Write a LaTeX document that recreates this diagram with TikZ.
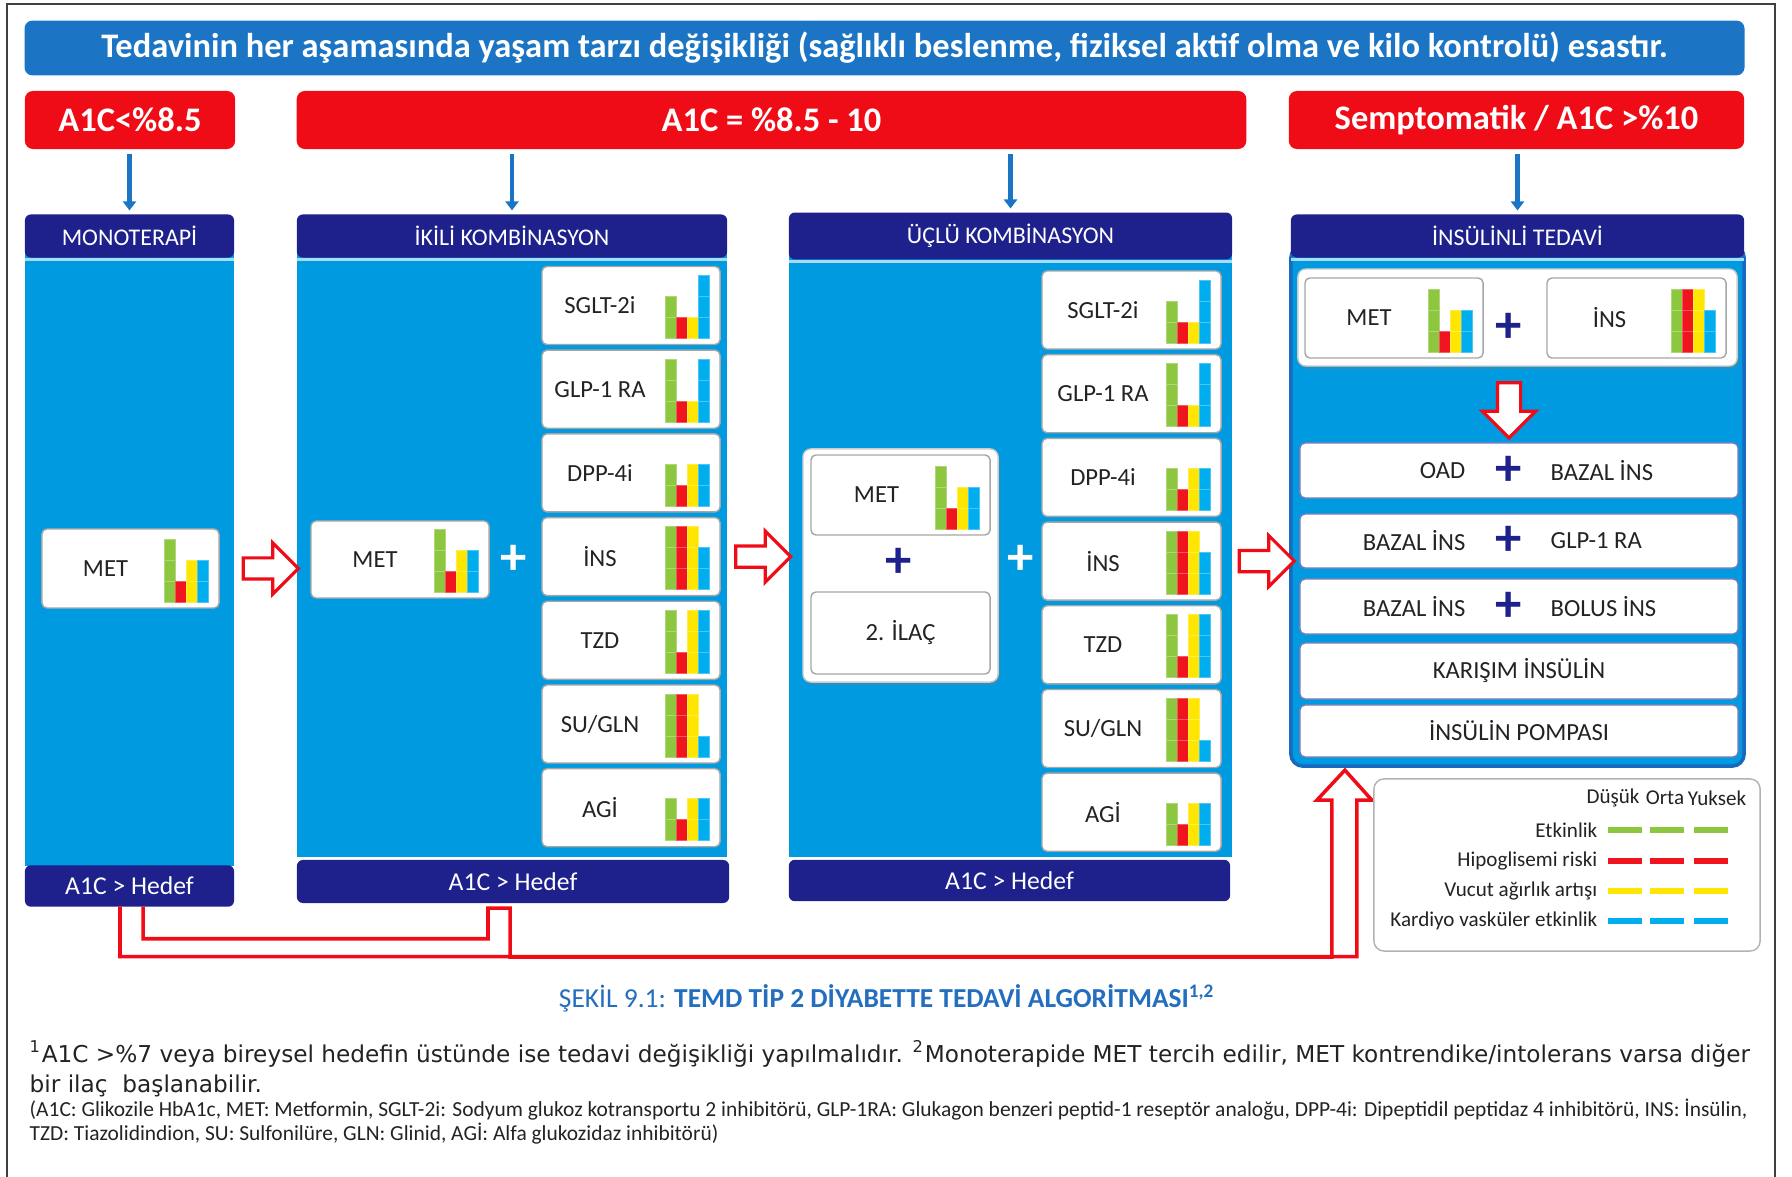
\documentclass[tikz,border=0pt]{standalone}
\usepackage{fontspec}
\setmainfont{Carlito}
\newfontfamily\notefont{DejaVu Sans}
\usetikzlibrary{positioning,calc,arrows.meta,shapes.arrows,shadows}

\definecolor{bannerblue}{RGB}{27,117,196}
\definecolor{alarmred}{RGB}{240,12,22}
\definecolor{navy}{RGB}{30,32,140}
\definecolor{colblue}{RGB}{0,154,224}
\definecolor{edgeblue}{RGB}{25,105,190}
\definecolor{bargreen}{RGB}{141,198,63}
\definecolor{barred}{RGB}{240,20,30}
\definecolor{baryellow}{RGB}{255,230,0}
\definecolor{barcyan}{RGB}{0,174,239}
\definecolor{captionblue}{RGB}{35,110,190}
\definecolor{ink}{RGB}{35,35,35}

\tikzset{
  banner/.style={fill=bannerblue, rounded corners=0.08cm, text=white, outer sep=0pt,
    font=\fontsize{9.8}{11}\selectfont\bfseries, minimum width=17.19cm, minimum height=0.46cm},
  a1cbox/.style={fill=alarmred, rounded corners=0.08cm, text=white, outer sep=0pt,
    font=\fontsize{9.8}{12}\selectfont\bfseries, minimum height=0.58cm},
  colbody/.style={fill=colblue, outer sep=0pt},
  colhead/.style={fill=navy, rounded corners=0.06cm, text=white, outer sep=0pt,
    font=\fontsize{6.8}{8}\selectfont, minimum height=0.42cm},
  colfoot/.style={fill=navy, rounded corners=0.06cm, text=white, outer sep=0pt,
    font=\fontsize{7.3}{9}\selectfont},
  seam/.style={draw=colblue!35!white, line width=0.6pt},
  downarrow/.style={draw=bannerblue, line width=1.2pt, -{Triangle[width=0.13cm,length=0.09cm]},
    shorten <=0.05cm, shorten >=0.04cm},
  drugbox/.style={draw=gray!70, fill=white, rounded corners=0.05cm, outer sep=0pt,
    minimum width=1.78cm, minimum height=0.78cm},
  groupbox/.style={draw=gray!40, fill=white, rounded corners=0.08cm, outer sep=0pt,
    drop shadow={shadow xshift=0.6pt, shadow yshift=-0.8pt, opacity=0.35}},
  rowbox/.style={draw=navy!60, fill=white, rounded corners=0.05cm, outer sep=0pt,
    minimum width=4.38cm},
  druglab/.style={text=ink, font=\fontsize{7}{8}\selectfont, inner sep=0pt},
  plussign/.style={font=\fontsize{15}{15}\selectfont\bfseries, inner sep=0pt},
  hollow/.style={single arrow, draw=alarmred, fill=white, line width=0.9pt,
    inner xsep=0pt, inner ysep=0.09cm, single arrow head extend=0.15cm, minimum height=0.55cm},
  pipe/.style={draw=alarmred, line width=1pt, line join=miter},
  legendbox/.style={draw=gray!60, fill=white, rounded corners=0.1cm},
  keytext/.style={text=ink, font=\fontsize{6}{7}\selectfont, inner sep=0pt},
  keybar/.style={line width=0.06cm},
  figcap/.style={text=captionblue, font=\fontsize{7.8}{9}\selectfont},
  notetext/.style={text=ink, font=\notefont\fontsize{6.6}{8}\selectfont, inner sep=0pt},
  smallnote/.style={text=ink, font=\fontsize{6.1}{7}\selectfont, inner sep=0pt},
  frame/.style={draw=gray!50!black, line width=0.6pt}
}

% four stacked bars (green, red, yellow, cyan) in the lower right of a box
\newcommand\levelbars[5]{%
  \foreach \lv/\cl [count=\k from 0] in {#2/bargreen,#3/barred,#4/baryellow,#5/barcyan}
    \foreach \j in {1,...,\lv}
      \filldraw[fill=\cl, draw=\cl!70!white, line width=0.2pt]
        ($(#1.south east)+({\k*11-55},{6+(\j-1)*21})$) rectangle ++(11,21);
}

\begin{document}
\begin{tikzpicture}[x=0.01cm, y=0.01cm]
\useasboundingbox (0,0) rectangle (1792,-1177);
\draw[frame] (7,-1190) |- (1775,-4) -- (1775,-1190);

% top band and A1C levels
\node[banner] (life) at (884.5,-48) {Tedavinin her aşamasında yaşam tarzı değişikliği (sağlıklı beslenme, fiziksel aktif olma ve kilo kontrolü) esastır.};
\node[a1cbox, minimum width=2.10cm] (r1) at (130,-120) {A1C<\%8.5};
\node[a1cbox, minimum width=9.49cm] (r2) at (771.5,-120) {A1C = \%8.5 - 10};
\node[a1cbox, minimum width=4.55cm] (r3) at (1516.5,-120) {Semptomatik / A1C >\%10};

% column panels
\node[colbody, minimum width=2.09cm, minimum height=6.20cm] (b1) at (129.5,-556) {};
\node[colbody, minimum width=4.30cm, minimum height=6.11cm] (b2) at (512,-551.5) {};
\node[colbody, minimum width=4.43cm, minimum height=6.11cm] (b3) at (1010.5,-551.5) {};
\node[colbody, draw=edgeblue, line width=1pt, rounded corners=0.12cm,
  minimum width=4.53cm, minimum height=5.20cm] (b4) at (1517.5,-506) {};

\node[colhead, minimum width=2.09cm] (h1) at (129.5,-236) {MONOTERAPİ};
\node[colhead, minimum width=4.30cm] (h2) at (512,-236) {İKİLİ KOMBİNASYON};
\node[colhead, minimum width=4.43cm] (h3) at (1010.5,-236) {ÜÇLÜ KOMBİNASYON};
\node[colhead, minimum width=4.53cm] (h4) at (1517.5,-236) {İNSÜLİNLİ TEDAVİ};
\foreach \i in {1,...,4}
  \draw[seam] ([yshift=-0.02cm]h\i.south west) -- ([yshift=-0.02cm]h\i.south east);

\node[colfoot, minimum width=2.09cm, minimum height=0.34cm] (f1) at (129.5,-886) {A1C > Hedef};
\node[colfoot, minimum width=4.32cm, minimum height=0.43cm] (f2) at (513,-881.5) {A1C > Hedef};
\node[colfoot, minimum width=4.41cm, minimum height=0.41cm] (f3) at (1009.5,-880.5) {A1C > Hedef};

\foreach \r/\h in {r1/h1,r2/h2,r2/h3,r3/h4}
  \draw[downarrow] (\h.north |- \r.south) -- (\h.north);

% monotherapy
\node[drugbox, minimum width=1.77cm, minimum height=0.79cm] (m1) at (130.5,-568.5) {};
\node[druglab] (m1t) at ([xshift=-0.25cm]m1.center) {MET};
\levelbars{m1}{3}{1}{2}{2}

% dual combination
\node[drugbox, minimum height=0.77cm] (m2) at (400,-559.5) {};
\node[druglab] (m2t) at ([xshift=-0.25cm]m2.center) {MET};
\levelbars{m2}{3}{1}{2}{2}
\node[plussign, text=white] (p2) at (514,-560) {+};
\foreach \lab/\g/\r/\y/\c [count=\i] in {SGLT-2i/2/1/1/3, GLP-1 RA/3/1/1/3, DPP-4i/2/1/2/2,
    İNS/3/3/3/2, TZD/3/1/3/3, {SU/GLN}/3/3/3/1, AGİ/2/1/2/2} {
  \node[drugbox] (d2\i) at (631,{-305.5-(\i-1)*83.7}) {};
  \node[druglab] (d2\i t) at ([xshift=-0.31cm]d2\i.center) {\lab};
  \levelbars{d2\i}{\g}{\r}{\y}{\c}
}

% triple combination
\node[groupbox, minimum width=1.95cm, minimum height=2.33cm] (g3) at (900.5,-565.5) {};
\node[drugbox, minimum width=1.79cm, minimum height=0.80cm] (m3) at (900.5,-495) {};
\node[druglab] (m3t) at ([xshift=-0.24cm]m3.center) {MET};
\levelbars{m3}{3}{1}{2}{2}
\node[plussign, text=navy] (p3) at (899,-563) {+};
\node[drugbox, minimum width=1.79cm, minimum height=0.82cm] (ilac) at (900.5,-633) {};
\node[druglab] (ilact) at (ilac.center) {2. İLAÇ};
\node[plussign, text=white] (p3b) at (1021,-560) {+};
\foreach \lab/\g/\r/\y/\c [count=\i] in {SGLT-2i/2/1/1/3, GLP-1 RA/3/1/1/3, DPP-4i/2/1/2/2,
    İNS/3/3/3/2, TZD/3/1/3/3, {SU/GLN}/3/3/3/1, AGİ/2/1/2/2} {
  \node[drugbox, minimum width=1.79cm] (d3\i) at (1131.5,{-310-(\i-1)*83.7}) {};
  \node[druglab] (d3\i t) at ([xshift=-0.285cm]d3\i.center) {\lab};
  \levelbars{d3\i}{\g}{\r}{\y}{\c}
}

% insulin therapy
\node[groupbox, minimum width=4.39cm, minimum height=0.97cm] (g4) at (1517.5,-317.5) {};
\node[drugbox, minimum height=0.80cm] (m4) at (1394,-318) {};
\node[druglab] (m4t) at ([xshift=-0.25cm]m4.center) {MET};
\levelbars{m4}{3}{1}{2}{2}
\node[plussign, text=navy] (p4) at (1509,-328) {+};
\node[drugbox, minimum width=1.79cm, minimum height=0.80cm] (i4) at (1636.5,-318) {};
\node[druglab] (i4t) at ([xshift=-0.27cm]i4.center) {İNS};
\levelbars{i4}{3}{3}{3}{2}
\node[hollow, shape border rotate=270, inner xsep=0.1cm, inner ysep=0pt] (down4) at (1509,-404.5) {};

\foreach \y/\h/\lft/\rgt [count=\i] in {470.5/0.55/OAD/BAZAL İNS, 541/0.54/BAZAL İNS/GLP-1 RA,
    606.5/0.55/BAZAL İNS/BOLUS İNS} {
  \node[rowbox, minimum height=\h cm] (row\i) at (1519,-\y) {};
  \node[plussign, text=navy] (rp\i) at ([xshift=-0.1cm]row\i.center) {+};
  \node[druglab, anchor=east] (rl\i) at (1466,-\y) {\lft};
  \node[druglab, anchor=west] (rr\i) at (1550,-\y) {\rgt};
}
\node[rowbox, minimum height=0.56cm] (row4) at (1519,-671) {};
\node[druglab] (row4t) at (row4.center) {KARIŞIM İNSÜLİN};
\node[rowbox, minimum height=0.52cm] (row5) at (1519,-731) {};
\node[druglab] (row5t) at (row5.center) {İNSÜLİN POMPASI};

% step-up arrows between columns
\node[hollow] (s12) at ($(b1.east |- m1.center)!0.5!(b2.west |- m1.center)$) {};
\node[hollow] (s23) at ($(b2.east |- d24.center)!0.5!(b3.west |- d24.center)$) {};
\node[hollow] (s34) at ($(b3.east |- d34.center)!0.5!(b4.west |- d34.center)$) {};

% return path to insulin therapy
\coordinate (tip) at ($(b4.south west)+(54,-4)$);
\draw[pipe] ([xshift=-0.095cm]f1.south) -- ++(0,-50) -| ($(tip)+(12,-30)$) -- ++(15,0)
  -- (tip) -- ($(tip)+(-28,-30)$) -- ++(15,0) |- ([xshift=-0.03cm,yshift=-0.54cm]f2.south)
  |- ([xshift=-0.25cm,yshift=-0.05cm]f2.south) |- ([xshift=0.135cm,yshift=-0.32cm]f1.south)
  -- ([xshift=0.135cm]f1.south);

% legend
\node[legendbox, minimum width=3.86cm, minimum height=1.72cm] (key) at (1567,-865) {};
\node[keytext] (low) at (1613,-798) {Düşük};
\node[keytext] (mid) at (1665,-798) {Orta};
\node[keytext] (high) at (1717,-798) {Yuksek};
\foreach \y/\txt/\cl [count=\i] in {830/Etkinlik/bargreen, 861/Hipoglisemi riski/barred,
    891/Vucut ağırlık artışı/baryellow, 921/Kardiyo vasküler etkinlik/barcyan} {
  \node[keytext, anchor=east] (k\i) at (1598,-\y) {\txt};
  \foreach \x in {1608,1650,1694}
    \draw[keybar, draw=\cl] (\x,-\y) -- ++(34,0);
}

% caption and notes
\node[figcap] (cap) at (887,-998) {ŞEKİL 9.1: \textbf{TEMD TİP 2 DİYABETTE TEDAVİ ALGORİTMASI\textsuperscript{1,2}}};
\node[notetext, anchor=west] (n1) at (29,-1054) {\textsuperscript{1}A1C >\%7 veya bireysel hedefin üstünde ise tedavi değişikliği yapılmalıdır. \textsuperscript{2}Monoterapide MET tercih edilir, MET kontrendike/intolerans varsa diğer};
\node[notetext, anchor=west] (n2) at (29,-1086) {bir ilaç\ \ başlanabilir.};
\node[smallnote, anchor=west] (n3) at (29,-1110) {(A1C: Glikozile HbA1c, MET: Metformin, SGLT-2i: Sodyum glukoz kotransportu 2 inhibitörü, GLP-1RA: Glukagon benzeri peptid-1 reseptör analoğu, DPP-4i: Dipeptidil peptidaz 4 inhibitörü, INS: İnsülin,};
\node[smallnote, anchor=west] (n4) at (29,-1134) {TZD: Tiazolidindion, SU: Sulfonilüre, GLN: Glinid, AGİ: Alfa glukozidaz inhibitörü)};
\end{tikzpicture}
\end{document}
